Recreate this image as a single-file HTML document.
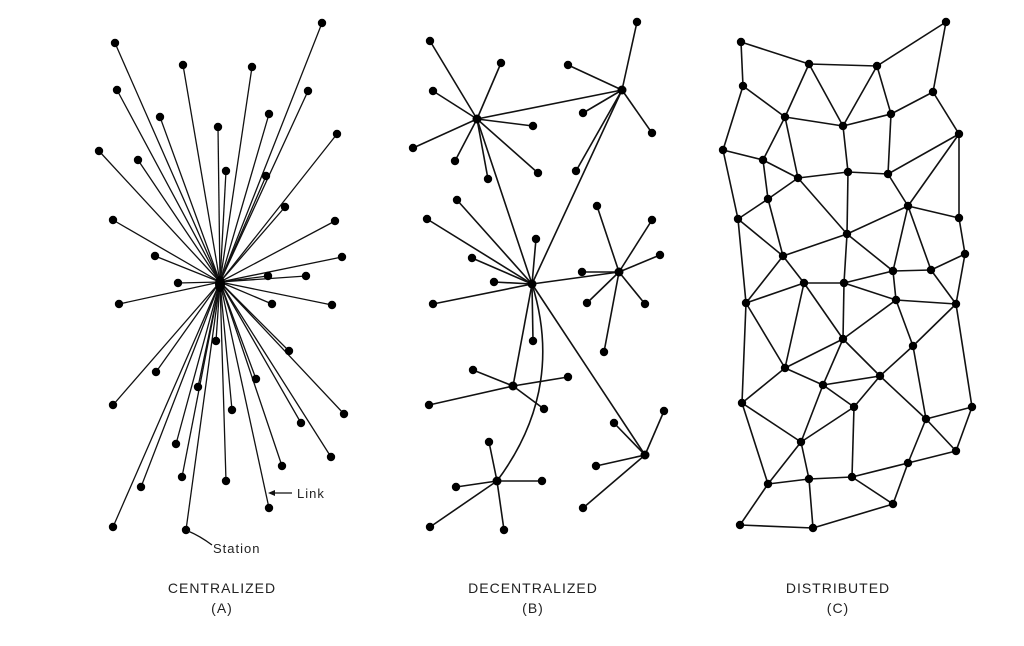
<!DOCTYPE html>
<html><head><meta charset="utf-8"><style>
html,body{margin:0;padding:0;background:#fff;}
svg{display:block}
text{font-family:"Liberation Sans",sans-serif;fill:#222;}
</style></head><body>
<svg width="1024" height="646" viewBox="0 0 1024 646" xmlns="http://www.w3.org/2000/svg">
<g id="A" stroke="#111" stroke-width="1.3"></g>
<g id="B" stroke="#111" stroke-width="1.6" fill="none"></g>
<g id="C" stroke="#111" stroke-width="1.6"></g>
<g id="dots" fill="#000"></g>
<g stroke="#111" stroke-width="1.3" fill="none">
<path d="M270 493 L292 493"/><path d="M188 531 Q200 536 212 545"/>
</g>
<polygon points="268,493 275,490 275,496" fill="#111"/>
<text x="297" y="498" font-size="13" letter-spacing="1">Link</text>
<text x="213" y="553" font-size="13" letter-spacing="1">Station</text>
<g font-size="14" letter-spacing="1" text-anchor="middle">
<text x="222" y="593">CENTRALIZED</text><text x="222" y="613">(A)</text>
<text x="533" y="593">DECENTRALIZED</text><text x="533" y="613">(B)</text>
<text x="838" y="593">DISTRIBUTED</text><text x="838" y="613">(C)</text>
</g>
</svg>
<script>
const NS="http://www.w3.org/2000/svg";
function el(p,t,a){const e=document.createElementNS(NS,t);for(const k in a)e.setAttribute(k,a[k]);p.appendChild(e);return e;}
const dots=document.getElementById('dots');
function dot(x,y,r){el(dots,'circle',{cx:x,cy:y,r:r||4.2});}
function line(g,a,b){el(g,'line',{x1:a[0],y1:a[1],x2:b[0],y2:b[1]});}
// A
const gA=document.getElementById('A');const cA=[220,282];
const An=[[115,43],[183,65],[252,67],[322,23],[117,90],[308,91],[160,117],[269,114],[218,127],[337,134],[99,151],[138,160],[226,171],[266,176],[285,207],[113,220],[335,221],[155,256],[342,257],[178,283],[268,276],[306,276],[119,304],[272,304],[332,305],[216,341],[289,351],[156,372],[198,387],[256,379],[113,405],[232,410],[344,414],[301,423],[176,444],[331,457],[282,466],[182,477],[226,481],[141,487],[269,508],[113,527],[186,530]];
An.forEach(p=>{line(gA,cA,p);dot(p[0],p[1]);});
el(dots,'ellipse',{cx:220,cy:284,rx:5,ry:8});
// B
const gB=document.getElementById('B');
const hubs={h1:[477,119],h2:[622,90],h3:[532,284],h4:[619,272],h5:[513,386],h6:[497,481],h7:[645,455]};
const sp={h1:[[430,41],[501,63],[433,91],[533,126],[413,148],[455,161],[488,179],[538,173]],
h2:[[637,22],[568,65],[583,113],[652,133],[576,171]],
h3:[[457,200],[427,219],[536,239],[472,258],[494,282],[433,304],[533,341]],
h4:[[597,206],[652,220],[660,255],[582,272],[587,303],[645,304],[604,352]],
h5:[[473,370],[568,377],[429,405],[544,409]],
h6:[[489,442],[456,487],[542,481],[430,527],[504,530]],
h7:[[664,411],[614,423],[596,466],[583,508]]};
for(const h in sp){sp[h].forEach(p=>{line(gB,hubs[h],p);dot(p[0],p[1]);});}
[['h1','h2'],['h1','h3'],['h2','h3'],['h3','h4'],['h3','h5'],['h3','h7']].forEach(e=>line(gB,hubs[e[0]],hubs[e[1]]));
el(gB,'path',{d:'M532 284 Q565 390 497 481'});
for(const h in hubs)dot(hubs[h][0],hubs[h][1],4.5);
// C
const gC=document.getElementById('C');
const N={a:[741,42],b:[809,64],c:[877,66],d:[946,22],e:[743,86],f:[933,92],g:[785,117],h:[843,126],i:[891,114],j:[959,134],k:[723,150],l:[763,160],m:[798,178],n:[848,172],o:[888,174],p:[768,199],q:[908,206],r:[738,219],s:[959,218],t:[847,234],u:[783,256],v:[965,254],w:[893,271],x:[931,270],y:[804,283],z:[844,283],A:[746,303],B:[896,300],C:[956,304],D:[843,339],E:[913,346],F:[785,368],G:[880,376],H:[823,385],I:[742,403],J:[972,407],K:[854,407],L:[926,419],M:[801,442],N:[956,451],O:[908,463],P:[768,484],Q:[809,479],R:[852,477],S:[893,504],T:[740,525],U:[813,528]};
const E="ab bc cd ae df bg bh ch ci eg fi fj gh hi ek gl gm hn io jo jq js kl lm mn no oq lp mt nt pr kr mp pu qt qs sv qw qx xv wx tw tz ru rA ut uy uA yz yA zw zB wB xC vC BC BD BE EC zD yD yF AF DF DH DG EG EL CJ AI FH HG GK HK HM GL LJ LN JN IF IM IP MK MQ MP KR LO ON OS RQ RO RS PQ PT QU TU US";
E.split(' ').forEach(s=>line(gC,N[s[0]],N[s[1]]));
for(const k in N)dot(N[k][0],N[k][1],4.2);
</script>
</body></html>
